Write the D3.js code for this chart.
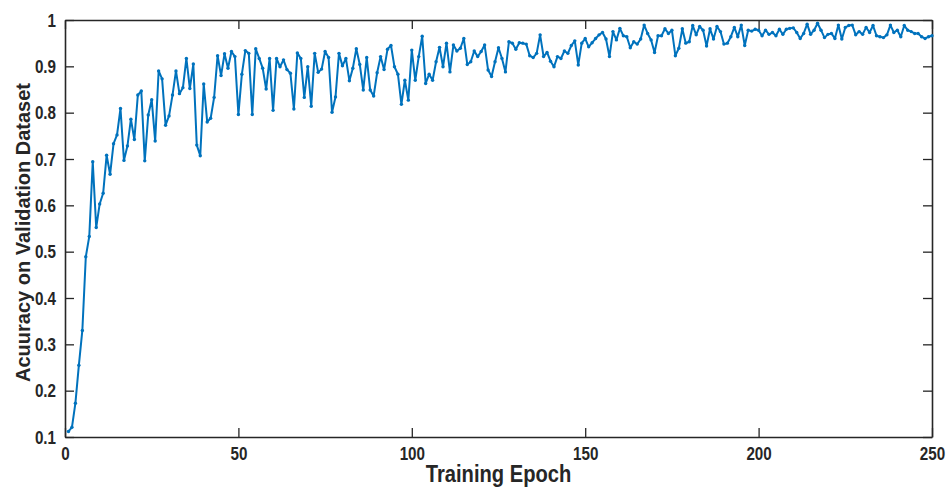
<!DOCTYPE html>
<html>
<head>
<meta charset="utf-8">
<script src="https://cdn.jsdelivr.net/npm/d3@7"></script>
<style>
  body { margin: 0; background: #fff; }
  svg { display: block; font-family: "Liberation Sans", Arial, sans-serif; }
</style>
</head>
<body>
<svg width="950" height="488"></svg>
<script>
(function (d3) {
    'use strict';

    // accuracy per epoch (epochs 1..250)
    const accuracy = [
        0.112, 0.121, 0.173, 0.255, 0.330, 0.489, 0.533, 0.694, 0.552, 0.603,
        0.626, 0.708, 0.667, 0.733, 0.752, 0.809, 0.697, 0.728, 0.786, 0.742,
        0.838, 0.847, 0.696, 0.795, 0.828, 0.739, 0.890, 0.873, 0.773, 0.793,
        0.838, 0.890, 0.841, 0.854, 0.917, 0.852, 0.905, 0.730, 0.707, 0.862,
        0.780, 0.788, 0.833, 0.923, 0.880, 0.927, 0.896, 0.932, 0.921, 0.796,
        0.883, 0.934, 0.928, 0.796, 0.938, 0.917, 0.896, 0.851, 0.917, 0.805,
        0.917, 0.899, 0.914, 0.893, 0.885, 0.808, 0.929, 0.917, 0.833, 0.899,
        0.814, 0.928, 0.887, 0.894, 0.932, 0.919, 0.801, 0.834, 0.928, 0.901,
        0.917, 0.869, 0.896, 0.938, 0.904, 0.849, 0.919, 0.849, 0.836, 0.886,
        0.921, 0.893, 0.937, 0.945, 0.899, 0.883, 0.818, 0.870, 0.827, 0.935,
        0.870, 0.921, 0.965, 0.863, 0.883, 0.870, 0.910, 0.941, 0.899, 0.950,
        0.888, 0.946, 0.933, 0.939, 0.960, 0.904, 0.910, 0.933, 0.921, 0.932,
        0.946, 0.892, 0.878, 0.910, 0.940, 0.917, 0.888, 0.953, 0.950, 0.937,
        0.951, 0.950, 0.948, 0.923, 0.919, 0.928, 0.968, 0.921, 0.930, 0.911,
        0.899, 0.921, 0.917, 0.933, 0.928, 0.945, 0.955, 0.903, 0.950, 0.960,
        0.942, 0.951, 0.960, 0.968, 0.973, 0.959, 0.921, 0.975, 0.957, 0.982,
        0.966, 0.964, 0.940, 0.953, 0.948, 0.959, 0.989, 0.971, 0.957, 0.930,
        0.966, 0.966, 0.981, 0.971, 0.978, 0.923, 0.939, 0.981, 0.950, 0.953,
        0.988, 0.968, 0.986, 0.978, 0.944, 0.981, 0.959, 0.986, 0.975, 0.948,
        0.950, 0.964, 0.984, 0.964, 0.989, 0.945, 0.978, 0.976, 0.980, 0.978,
        0.966, 0.978, 0.969, 0.973, 0.966, 0.980, 0.969, 0.980, 0.982, 0.983,
        0.973, 0.960, 0.971, 0.991, 0.969, 0.978, 0.993, 0.978, 0.962, 0.969,
        0.971, 0.960, 0.989, 0.959, 0.984, 0.988, 0.989, 0.968, 0.975, 0.969,
        0.984, 0.973, 0.988, 0.966, 0.964, 0.962, 0.968, 0.989, 0.973, 0.978,
        0.964, 0.988, 0.978, 0.975, 0.971, 0.971, 0.964, 0.960, 0.964, 0.966
    ];
    const epochs = accuracy.map((d, i) => i + 1);

    const xTicks = [0, 50, 100, 150, 200, 250];
    const yTicks = [0.1, 0.2, 0.3, 0.4, 0.5, 0.6, 0.7, 0.8, 0.9, 1];

    const svg = d3.select('svg');
    const margin = { top: 20, right: 18, bottom: 51, left: 65 };
    const width = +svg.attr('width') - margin.left - margin.right;
    const height = +svg.attr('height') - margin.top - margin.bottom;
    const axisColor = '#262626';
    const lineColor = '#0072bd';
    const squeeze = 0.8; // labels in the picture are narrow and tall

    const x = d3.scaleLinear().domain([0, 250]).range([0, width]);
    const y = d3.scaleLinear().domain([0.1, 1]).range([height, 0]);

    const g = svg.append('g')
        .attr('transform', `translate(${margin.left},${margin.top})`);

    const styleAxis = sel => {
        sel.selectAll('path.domain').attr('stroke', axisColor).attr('stroke-width', 1.6);
        sel.selectAll('.tick line').attr('stroke', axisColor).attr('stroke-width', 1.3);
        sel.selectAll('.tick text')
            .attr('fill', axisColor)
            .attr('font-size', 19)
            .attr('font-weight', 'bold');
    };

    // bottom + left with labels, top + right as mirrored box ticks
    g.append('g')
        .attr('transform', `translate(0,${height})`)
        .call(d3.axisBottom(x).tickValues(xTicks).tickSizeInner(-9).tickSizeOuter(0).tickPadding(10))
        .call(styleAxis)
        .selectAll('.tick text')
            .attr('transform', `scale(${squeeze},1)`);

    g.append('g')
        .call(d3.axisLeft(y).tickValues(yTicks).tickFormat(d3.format('~g')).tickSizeInner(-9).tickSizeOuter(0))
        .call(styleAxis)
        .selectAll('.tick text')
            .attr('x', -9 / squeeze)
            .attr('transform', `scale(${squeeze},1)`);

    g.append('g')
        .call(d3.axisTop(x).tickValues(xTicks).tickFormat('').tickSizeInner(-9).tickSizeOuter(0))
        .call(styleAxis);
    g.append('g')
        .attr('transform', `translate(${width},0)`)
        .call(d3.axisRight(y).tickValues(yTicks).tickFormat('').tickSizeInner(-9).tickSizeOuter(0))
        .call(styleAxis);

    const line = d3.line()
        .x((d, i) => x(epochs[i]))
        .y(d => y(d));

    g.append('path')
        .datum(accuracy)
        .attr('fill', 'none')
        .attr('stroke', lineColor)
        .attr('stroke-width', 2)
        .attr('stroke-linejoin', 'round')
        .attr('d', line);

    g.selectAll('circle.pt')
        .data(accuracy)
        .enter().append('circle')
            .attr('class', 'pt')
            .attr('cx', (d, i) => x(epochs[i]))
            .attr('cy', d => y(d))
            .attr('r', 1.7)
            .attr('fill', lineColor);

    g.append('text')
        .attr('transform', `translate(${width / 2},${height + 45}) scale(0.84,1)`)
        .attr('text-anchor', 'middle')
        .attr('font-size', 24)
        .attr('font-weight', 'bold')
        .attr('fill', axisColor)
        .text('Training Epoch');

    g.append('text')
        .attr('transform', `translate(${30 - margin.left},${height / 2 + 4}) rotate(-90)`)
        .attr('text-anchor', 'middle')
        .attr('font-size', 20)
        .attr('font-weight', 'bold')
        .attr('fill', axisColor)
        .text('Acuuracy on Validation Dataset');
}(d3));
</script>
</body>
</html>
